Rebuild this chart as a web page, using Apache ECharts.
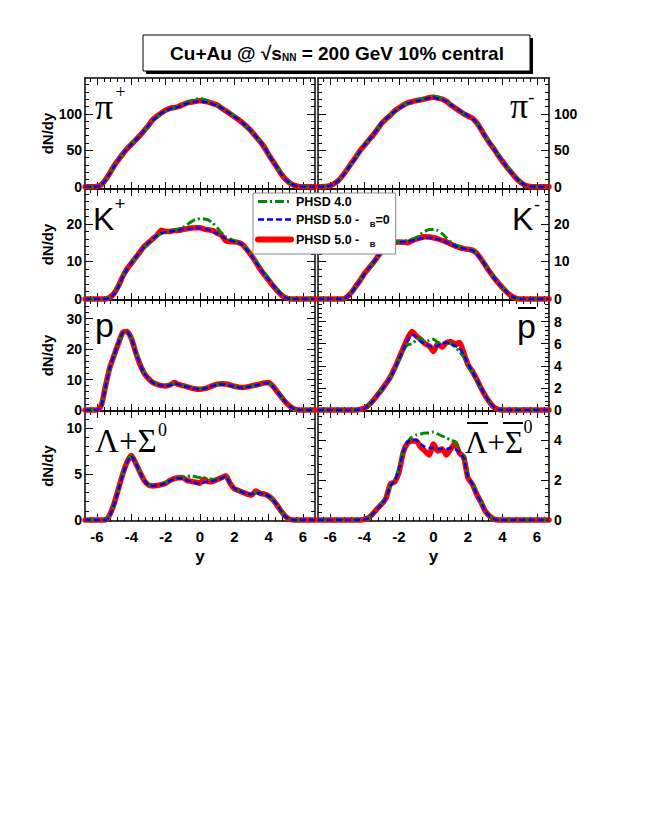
<!DOCTYPE html>
<html><head><meta charset="utf-8">
<script src="https://cdn.jsdelivr.net/npm/echarts@6/dist/echarts.min.js"></script>
<style>html,body{margin:0;padding:0;background:#fff}#c{width:648px;height:830px}</style>
</head><body><div id="c"></div>
<script>
// ---------- tick values ----------
const xMajor = [-6,-4,-2,0,2,4,6];
const xMinor = [-6.4,-5.6,-5.2,-4.8,-4.4,-3.6,-3.2,-2.8,-2.4,-1.6,-1.2,-0.8,-0.4,0.4,0.8,1.2,1.6,2.4,2.8,3.2,3.6,4.4,4.8,5.2,5.6,6.4];
const yMajorPi = [0,50,100];
const yMinorPi = [10,20,30,40,60,70,80,90,110,120,130,140];
const yMajorK = [0,10,20];
const yMinorK = [2,4,6,8,12,14,16,18,22,24,26,28];
const yMajorP = [0,10,20,30];
const yMinorP = [2,4,6,8,12,14,16,18,22,24,26,28,32,34];
const yMajorPbar = [0,2,4,6,8];
const yMinorPbar = [0.4,0.8,1.2,1.6,2.4,2.8,3.2,3.6,4.4,4.8,5.2,5.6,6.4,6.8,7.2,7.6,8.4,8.8,9.2,9.6];
const yMajorLam = [0,5,10];
const yMinorLam = [1,2,3,4,6,7,8,9,11];
const yMajorLamBar = [0,2,4];
const yMinorLamBar = [0.4,0.8,1.2,1.6,2.4,2.8,3.2,3.6,4.4,4.8,5.2];

// ---------- series names ----------
const nameV4 = 'PHSD 4.0';
const nameMuB0 = 'PHSD 5.0 - μB=0';
const nameMuB = 'PHSD 5.0 - μB';

// ---------- data: [rapidity y, dN/dy] ----------
const piPlusMuB = [[-6.7,0],[-6.25,0],[-6,0.5],[-5.75,3],[-5.5,10],[-5.25,19],[-5,29],[-4.75,37],[-4.5,45],[-4.25,52],[-4,58],[-3.75,64],[-3.5,70],[-3.25,77],[-3,84],[-2.75,92],[-2.5,97],[-2.25,101],[-2,105],[-1.75,107.5],[-1.5,108.5],[-1.25,110],[-1,112.5],[-0.75,115],[-0.5,116],[-0.25,117],[0,118],[0.25,117],[0.5,116],[0.75,114],[1,112],[1.25,108],[1.5,104],[1.75,100],[2,96],[2.25,92],[2.5,87],[2.75,82],[3,76],[3.25,69],[3.5,62],[3.75,54],[4,44],[4.25,35],[4.5,26],[4.75,17],[5,10],[5.25,5],[5.5,2],[5.75,0.5],[6,0],[6.7,0]];
const piPlusMuB0 = [[-6.7,0],[-6.25,0],[-6,0.3],[-5.75,2.5],[-5.5,9],[-5.25,18],[-5,28],[-4.75,37],[-4.5,45],[-4.25,52],[-4,58],[-3.75,64],[-3.5,70],[-3.25,77],[-3,84],[-2.75,91],[-2.5,96],[-2.25,101],[-2,104],[-1.75,107],[-1.5,108],[-1.25,109.5],[-1,112],[-0.75,114],[-0.5,115.5],[-0.25,116.5],[0,117],[0.25,116.5],[0.5,115],[0.75,113],[1,111],[1.25,108],[1.5,104],[1.75,100],[2,96],[2.25,92],[2.5,87],[2.75,82],[3,76],[3.25,69],[3.5,62],[3.75,54],[4,44],[4.25,35],[4.5,26],[4.75,17],[5,10],[5.25,5],[5.5,2],[5.75,0.5],[6,0],[6.7,0]];
const piPlusV4 = [[-6.7,0],[-6.25,0],[-6,0.4],[-5.75,3],[-5.5,9.5],[-5.25,18.5],[-5,28.5],[-4.75,37],[-4.5,45],[-4.25,52],[-4,58],[-3.75,64],[-3.5,70],[-3.25,76],[-3,83],[-2.75,90],[-2.5,96],[-2.25,100],[-2,104],[-1.75,106],[-1.5,108],[-1.25,110],[-1,113],[-0.75,115.5],[-0.5,118],[-0.25,120],[0,121],[0.25,119.5],[0.5,117],[0.75,114],[1,111.5],[1.25,108.5],[1.5,104.5],[1.75,101],[2,97],[2.25,92.5],[2.5,87],[2.75,81],[3,75],[3.25,69],[3.5,62],[3.75,54],[4,45],[4.25,36],[4.5,27],[4.75,18],[5,10.5],[5.25,5],[5.5,2],[5.75,0.5],[6,0],[6.7,0]];

const piMinusMuB = [[-6.7,0],[-6.25,0.3],[-6,1.5],[-5.75,4.5],[-5.5,9],[-5.25,16],[-5,24],[-4.75,33],[-4.5,41],[-4.25,50],[-4,57],[-3.75,64],[-3.5,71],[-3.25,79],[-3,87],[-2.75,93],[-2.5,98],[-2.25,104],[-2,108],[-1.75,112],[-1.5,115],[-1.25,116.5],[-1,118],[-0.75,119],[-0.5,120.5],[-0.25,122],[0,122.5],[0.25,121.5],[0.5,120],[0.75,117],[1,112],[1.25,108],[1.5,104],[1.75,100],[2,97],[2.25,94],[2.5,88],[2.75,79],[3,69],[3.25,60],[3.5,52],[3.75,43],[4,35],[4.25,27],[4.5,20],[4.75,13],[5,7],[5.25,3],[5.5,1],[5.75,0.2],[6,0],[6.7,0]];
const piMinusMuB0 = [[-6.7,0],[-6.25,0.2],[-6,1.3],[-5.75,4.2],[-5.5,8.8],[-5.25,15.5],[-5,23.5],[-4.75,32],[-4.5,40],[-4.25,49],[-4,57],[-3.75,64],[-3.5,71],[-3.25,79],[-3,87],[-2.75,93],[-2.5,98],[-2.25,103],[-2,107],[-1.75,111],[-1.5,114],[-1.25,116],[-1,117.5],[-0.75,118.5],[-0.5,120],[-0.25,121.5],[0,122],[0.25,121],[0.5,119.5],[0.75,116.5],[1,112.5],[1.25,108.5],[1.5,104.5],[1.75,101],[2,97.5],[2.25,93.5],[2.5,87.5],[2.75,79],[3,69.5],[3.25,60.5],[3.5,52],[3.75,43.5],[4,35],[4.25,27],[4.5,20],[4.75,13],[5,7.2],[5.25,3.2],[5.5,1],[5.75,0.2],[6,0],[6.7,0]];
const piMinusV4 = [[-6.7,0],[-6.25,0.3],[-6,1.5],[-5.75,4.4],[-5.5,9],[-5.25,16],[-5,24],[-4.75,33],[-4.5,41],[-4.25,49],[-4,57],[-3.75,64],[-3.5,71],[-3.25,79],[-3,87],[-2.75,93],[-2.5,98.5],[-2.25,103],[-2,107],[-1.75,111.5],[-1.5,115],[-1.25,117],[-1,118.5],[-0.75,120],[-0.5,121.5],[-0.25,123],[0,124],[0.25,123],[0.5,121],[0.75,117.5],[1,113],[1.25,108.5],[1.5,103.5],[1.75,100],[2,97],[2.25,93.5],[2.5,87.5],[2.75,79.5],[3,70],[3.25,61],[3.5,52.5],[3.75,44],[4,35.5],[4.25,27.5],[4.5,20.5],[4.75,13.5],[5,7.5],[5.25,3.3],[5.5,1.1],[5.75,0.2],[6,0],[6.7,0]];

const kPlusMuB = [[-6.7,0],[-5.5,0],[-5.25,0.4],[-5,1.5],[-4.75,3.5],[-4.5,6],[-4.25,8],[-4,9.5],[-3.75,11],[-3.5,12.5],[-3.25,14],[-3,15],[-2.75,16],[-2.5,17],[-2.25,18.3],[-2,18],[-1.75,18],[-1.5,18.2],[-1.25,18.3],[-1,18.5],[-0.75,18.7],[-0.5,18.9],[-0.25,19],[0,19],[0.25,18.6],[0.5,18.4],[0.75,18.2],[1,17.5],[1.25,17],[1.5,15.5],[1.75,15.3],[2,15.2],[2.25,15],[2.5,14.4],[2.75,13],[3,11.5],[3.25,9.8],[3.5,8],[3.75,6.4],[4,5],[4.25,3.5],[4.5,2.2],[4.75,1],[5,0.3],[5.25,0],[6.7,0]];
const kPlusMuB0 = [[-6.7,0],[-5.5,0],[-5.25,0.3],[-5,1.3],[-4.75,3.3],[-4.5,5.8],[-4.25,7.9],[-4,9.5],[-3.75,11],[-3.5,12.5],[-3.25,13.9],[-3,15],[-2.75,16],[-2.5,16.9],[-2.25,17.5],[-2,17.8],[-1.75,18],[-1.5,18.1],[-1.25,18.3],[-1,18.5],[-0.75,18.6],[-0.5,18.8],[-0.25,18.9],[0,18.9],[0.25,18.7],[0.5,18.4],[0.75,18],[1,17.4],[1.25,16.8],[1.5,16.1],[1.75,15.6],[2,15.3],[2.25,15],[2.5,14.3],[2.75,13],[3,11.5],[3.25,9.8],[3.5,8.1],[3.75,6.5],[4,5.1],[4.25,3.6],[4.5,2.3],[4.75,1.1],[5,0.3],[5.25,0],[6.7,0]];
const kPlusV4 = [[-6.7,0],[-5.5,0],[-5.25,0.4],[-5,1.6],[-4.75,3.6],[-4.5,6],[-4.25,8],[-4,9.6],[-3.75,11],[-3.5,12.3],[-3.25,13.6],[-3,14.6],[-2.75,15.8],[-2.5,16.8],[-2.25,17.4],[-2,17.8],[-1.75,18.1],[-1.5,18.3],[-1.25,18.6],[-1,19],[-0.75,19.8],[-0.5,20.6],[-0.25,21.2],[0,21.4],[0.25,21.3],[0.5,21],[0.75,20.2],[1,19],[1.25,17.6],[1.5,16.6],[1.75,16],[2,15.5],[2.25,15.1],[2.5,14.5],[2.75,13.2],[3,11.8],[3.25,10.2],[3.5,8.5],[3.75,7],[4,5.5],[4.25,4],[4.5,2.6],[4.75,1.3],[5,0.4],[5.25,0],[6.7,0]];

const kMinusMuB = [[-6.7,0],[-5.25,0],[-5,0.6],[-4.75,1.8],[-4.5,3.4],[-4.25,5],[-4,6.8],[-3.75,8.2],[-3.5,9.6],[-3.25,11.2],[-3,12.8],[-2.75,14.3],[-2.5,15],[-2.25,15.1],[-2,15.2],[-1.75,15.1],[-1.5,15],[-1.25,15.5],[-1,16],[-0.75,16.3],[-0.5,16.6],[-0.25,16.5],[0,16.3],[0.25,16],[0.5,15.6],[0.75,15.2],[1,14.6],[1.25,14.1],[1.5,13.7],[1.75,13.4],[2,13.2],[2.25,13],[2.5,12.2],[2.75,10.7],[3,9],[3.25,7.3],[3.5,5.7],[3.75,4.3],[4,3],[4.25,1.8],[4.5,0.8],[4.75,0.2],[5,0],[6.7,0]];
const kMinusMuB0 = [[-6.7,0],[-5.25,0],[-5,0.5],[-4.75,1.7],[-4.5,3.3],[-4.25,4.9],[-4,6.6],[-3.75,8.1],[-3.5,9.6],[-3.25,11.1],[-3,12.6],[-2.75,13.9],[-2.5,14.6],[-2.25,15],[-2,15.1],[-1.75,15.2],[-1.5,15.3],[-1.25,15.5],[-1,15.8],[-0.75,16.1],[-0.5,16.3],[-0.25,16.3],[0,16.1],[0.25,15.9],[0.5,15.6],[0.75,15.1],[1,14.6],[1.25,14.1],[1.5,13.7],[1.75,13.4],[2,13.2],[2.25,12.9],[2.5,12.1],[2.75,10.7],[3,9],[3.25,7.3],[3.5,5.7],[3.75,4.3],[4,3],[4.25,1.8],[4.5,0.8],[4.75,0.2],[5,0],[6.7,0]];
const kMinusV4 = [[-6.7,0],[-5.25,0],[-5,0.6],[-4.75,1.8],[-4.5,3.4],[-4.25,5],[-4,6.7],[-3.75,8.2],[-3.5,9.7],[-3.25,11.2],[-3,12.7],[-2.75,14],[-2.5,14.8],[-2.25,15.1],[-2,15.3],[-1.75,15.4],[-1.5,15.6],[-1.25,15.9],[-1,16.3],[-0.75,17.2],[-0.5,18],[-0.25,18.5],[0,18.5],[0.25,18.2],[0.5,17.4],[0.75,16.3],[1,15.2],[1.25,14.4],[1.5,13.9],[1.75,13.5],[2,13.3],[2.25,13],[2.5,12.3],[2.75,10.9],[3,9.2],[3.25,7.5],[3.5,5.9],[3.75,4.4],[4,3.1],[4.25,1.9],[4.5,0.9],[4.75,0.2],[5,0],[6.7,0]];

const protonMuB = [[-6.7,0],[-6,0],[-5.75,1.5],[-5.5,8],[-5.25,14],[-5,18],[-4.75,22],[-4.5,25.5],[-4.25,25.8],[-4,23.5],[-3.75,19],[-3.5,15],[-3.25,12],[-3,10.3],[-2.75,9],[-2.5,8.4],[-2.25,8],[-2,7.9],[-1.75,8.2],[-1.5,9],[-1.25,8.4],[-1,8],[-0.75,7.6],[-0.5,7.2],[-0.25,6.9],[0,6.8],[0.25,7],[0.5,7.4],[0.75,8],[1,8.5],[1.25,8.6],[1.5,8.5],[1.75,8.2],[2,7.8],[2.25,7.5],[2.5,7.4],[2.75,7.6],[3,7.9],[3.25,8.2],[3.5,8.5],[3.75,8.9],[4,9],[4.25,7.8],[4.5,6],[4.75,4.2],[5,2.5],[5.25,1.2],[5.5,0.3],[5.75,0],[6.7,0]];
const protonMuB0 = [[-6.7,0],[-6,0],[-5.75,1.3],[-5.5,7.6],[-5.25,13.8],[-5,18],[-4.75,22],[-4.5,25.3],[-4.25,25.6],[-4,23.4],[-3.75,19],[-3.5,15],[-3.25,12],[-3,10.2],[-2.75,9],[-2.5,8.4],[-2.25,8],[-2,7.9],[-1.75,8.1],[-1.5,8.6],[-1.25,8.4],[-1,8],[-0.75,7.6],[-0.5,7.2],[-0.25,6.9],[0,6.8],[0.25,7],[0.5,7.4],[0.75,7.9],[1,8.3],[1.25,8.4],[1.5,8.3],[1.75,8],[2,7.7],[2.25,7.4],[2.5,7.3],[2.75,7.5],[3,7.8],[3.25,8.1],[3.5,8.4],[3.75,8.7],[4,8.8],[4.25,7.7],[4.5,6],[4.75,4.2],[5,2.5],[5.25,1.2],[5.5,0.3],[5.75,0],[6.7,0]];
const protonV4 = [[-6.7,0],[-6,0],[-5.75,1.4],[-5.5,7.8],[-5.25,13.9],[-5,18],[-4.75,22],[-4.5,25.4],[-4.25,25.7],[-4,23.5],[-3.75,19.1],[-3.5,15.1],[-3.25,12.1],[-3,10.3],[-2.75,9.1],[-2.5,8.5],[-2.25,8.1],[-2,8],[-1.75,8.3],[-1.5,8.8],[-1.25,8.5],[-1,8.1],[-0.75,7.7],[-0.5,7.3],[-0.25,7.1],[0,7],[0.25,7.1],[0.5,7.5],[0.75,8],[1,8.4],[1.25,8.5],[1.5,8.4],[1.75,8.1],[2,7.8],[2.25,7.5],[2.5,7.4],[2.75,7.6],[3,7.9],[3.25,8.1],[3.5,8.4],[3.75,8.8],[4,8.9],[4.25,7.8],[4.5,6.1],[4.75,4.3],[5,2.6],[5.25,1.2],[5.5,0.3],[5.75,0],[6.7,0]];

const pbarMuB = [[-6.7,0],[-4.5,0],[-4.25,0.05],[-4,0.15],[-3.75,0.45],[-3.5,0.85],[-3.25,1.35],[-3,1.85],[-2.75,2.4],[-2.5,3.0],[-2.25,3.8],[-2,4.7],[-1.75,5.6],[-1.5,6.5],[-1.25,7.1],[-1,6.7],[-0.75,6.4],[-0.5,6.0],[-0.25,5.8],[0,5.3],[0.25,6.0],[0.5,5.7],[0.75,6.1],[1,6.2],[1.25,6.0],[1.5,6.1],[1.75,5.2],[2,4.1],[2.25,3.5],[2.5,2.8],[2.75,2.0],[3,1.3],[3.25,0.7],[3.5,0.25],[3.75,0.05],[4,0],[6.7,0]];
const pbarMuB0 = [[-6.7,0],[-4.5,0],[-4.25,0.04],[-4,0.14],[-3.75,0.42],[-3.5,0.8],[-3.25,1.3],[-3,1.8],[-2.75,2.35],[-2.5,2.95],[-2.25,3.7],[-2,4.6],[-1.75,5.5],[-1.5,6.3],[-1.25,6.8],[-1,6.6],[-0.75,6.2],[-0.5,6.0],[-0.25,5.8],[0,5.7],[0.25,5.8],[0.5,6.0],[0.75,6.1],[1,6.0],[1.25,5.8],[1.5,5.6],[1.75,5.0],[2,4.2],[2.25,3.5],[2.5,2.8],[2.75,2.0],[3,1.3],[3.25,0.7],[3.5,0.25],[3.75,0.05],[4,0],[6.7,0]];
const pbarV4 = [[-6.7,0],[-4.5,0],[-4.25,0.05],[-4,0.16],[-3.75,0.45],[-3.5,0.85],[-3.25,1.35],[-3,1.85],[-2.75,2.4],[-2.5,3.0],[-2.25,3.7],[-2,4.5],[-1.75,5.4],[-1.5,5.9],[-1.25,6.0],[-1,6.3],[-0.75,6.5],[-0.5,6.1],[-0.25,6.3],[0,6.4],[0.25,6.1],[0.5,6.0],[0.75,6.2],[1,6.0],[1.25,5.7],[1.5,5.3],[1.75,4.8],[2,4.0],[2.25,3.4],[2.5,2.7],[2.75,1.95],[3,1.3],[3.25,0.7],[3.5,0.25],[3.75,0.05],[4,0],[6.7,0]];

const lambdaMuB = [[-6.7,0],[-5.5,0],[-5.25,0.6],[-5,1.8],[-4.75,3.4],[-4.5,5.0],[-4.25,6.3],[-4,7.0],[-3.75,6.2],[-3.5,5.2],[-3.25,4.3],[-3,3.8],[-2.75,3.7],[-2.5,3.75],[-2.25,3.85],[-2,4.0],[-1.75,4.3],[-1.5,4.5],[-1.25,4.6],[-1,4.6],[-0.75,4.3],[-0.5,4.2],[-0.25,4.1],[0,4.0],[0.25,4.45],[0.5,4.15],[0.75,4.2],[1,4.4],[1.25,4.6],[1.5,4.8],[1.75,4.0],[2,3.4],[2.25,3.2],[2.5,3.0],[2.75,2.8],[3,2.7],[3.25,3.15],[3.5,2.9],[3.75,2.8],[4,2.6],[4.25,2.2],[4.5,1.6],[4.75,0.9],[5,0.35],[5.25,0.05],[5.5,0],[6.7,0]];
const lambdaMuB0 = [[-6.7,0],[-5.5,0],[-5.25,0.5],[-5,1.7],[-4.75,3.3],[-4.5,4.9],[-4.25,6.2],[-4,6.9],[-3.75,6.2],[-3.5,5.2],[-3.25,4.3],[-3,3.8],[-2.75,3.7],[-2.5,3.75],[-2.25,3.85],[-2,4.0],[-1.75,4.25],[-1.5,4.45],[-1.25,4.55],[-1,4.5],[-0.75,4.3],[-0.5,4.2],[-0.25,4.05],[0,3.9],[0.25,4.1],[0.5,4.15],[0.75,4.25],[1,4.4],[1.25,4.55],[1.5,4.7],[1.75,4.0],[2,3.45],[2.25,3.2],[2.5,3.0],[2.75,2.85],[3,2.8],[3.25,2.95],[3.5,2.9],[3.75,2.8],[4,2.6],[4.25,2.2],[4.5,1.6],[4.75,0.9],[5,0.35],[5.25,0.05],[5.5,0],[6.7,0]];
const lambdaV4 = [[-6.7,0],[-5.5,0],[-5.25,0.55],[-5,1.75],[-4.75,3.35],[-4.5,4.95],[-4.25,6.25],[-4,6.95],[-3.75,6.25],[-3.5,5.25],[-3.25,4.35],[-3,3.85],[-2.75,3.75],[-2.5,3.8],[-2.25,3.9],[-2,4.05],[-1.75,4.3],[-1.5,4.5],[-1.25,4.6],[-1,4.6],[-0.75,4.7],[-0.5,4.8],[-0.25,4.7],[0,4.6],[0.25,4.5],[0.5,4.5],[0.75,4.4],[1,4.45],[1.25,4.6],[1.5,4.7],[1.75,4.0],[2,3.45],[2.25,3.2],[2.5,3.0],[2.75,2.85],[3,2.8],[3.25,2.95],[3.5,2.9],[3.75,2.8],[4,2.6],[4.25,2.2],[4.5,1.6],[4.75,0.9],[5,0.35],[5.25,0.05],[5.5,0],[6.7,0]];

const lambdaBarMuB = [[-6.7,0],[-4.25,0],[-4,0.03],[-3.75,0.12],[-3.5,0.33],[-3.25,0.58],[-3,0.8],[-2.75,1.1],[-2.5,1.8],[-2.25,1.9],[-2,2.4],[-1.75,3.4],[-1.5,3.85],[-1.25,3.95],[-1,3.95],[-0.75,3.65],[-0.5,3.45],[-0.25,3.25],[0,3.8],[0.25,3.45],[0.5,3.55],[0.75,3.25],[1,3.55],[1.25,3.85],[1.5,3.35],[1.75,3.15],[2,2.1],[2.25,1.8],[2.5,1.3],[2.75,0.9],[3,0.45],[3.25,0.2],[3.5,0.05],[3.75,0],[6.7,0]];
const lambdaBarMuB0 = [[-6.7,0],[-4.25,0],[-4,0.03],[-3.75,0.11],[-3.5,0.32],[-3.25,0.56],[-3,0.8],[-2.75,1.1],[-2.5,1.7],[-2.25,1.95],[-2,2.5],[-1.75,3.4],[-1.5,3.9],[-1.25,4.0],[-1,4.0],[-0.75,3.8],[-0.5,3.65],[-0.25,3.6],[0,3.6],[0.25,3.55],[0.5,3.55],[0.75,3.55],[1,3.6],[1.25,3.55],[1.5,3.4],[1.75,3.1],[2,2.15],[2.25,1.8],[2.5,1.3],[2.75,0.9],[3,0.45],[3.25,0.2],[3.5,0.05],[3.75,0],[6.7,0]];
const lambdaBarV4 = [[-6.7,0],[-4.25,0],[-4,0.03],[-3.75,0.12],[-3.5,0.33],[-3.25,0.58],[-3,0.82],[-2.75,1.15],[-2.5,1.7],[-2.25,2.0],[-2,2.6],[-1.75,3.45],[-1.5,3.9],[-1.25,4.15],[-1,4.25],[-0.75,4.3],[-0.5,4.35],[-0.25,4.35],[0,4.4],[0.25,4.3],[0.5,4.2],[0.75,4.1],[1,4.0],[1.25,3.9],[1.5,3.5],[1.75,3.2],[2,2.2],[2.25,1.85],[2.5,1.35],[2.75,0.92],[3,0.47],[3.25,0.2],[3.5,0.05],[3.75,0],[6.7,0]];

// ---------- layout ----------
const SANS = '"Liberation Sans", Arial, Helvetica, sans-serif';
const SERIF = '"Liberation Serif", "Times New Roman", serif';
const colX = [85, 318], colW = [230, 231];
const rowY = [78, 189, 300, 411], rowH = [111, 111, 111, 110];

const panels = [
  {row:0,col:0,ymin:-3,ymax:149,major:yMajorPi,minor:yMinorPi,red:piPlusMuB,blue:piPlusMuB0,green:piPlusV4},
  {row:0,col:1,ymin:-3,ymax:149,major:yMajorPi,minor:yMinorPi,red:piMinusMuB,blue:piMinusMuB0,green:piMinusV4},
  {row:1,col:0,ymin:-0.3,ymax:29.3,major:yMajorK,minor:yMinorK,red:kPlusMuB,blue:kPlusMuB0,green:kPlusV4},
  {row:1,col:1,ymin:-0.3,ymax:29.3,major:yMajorK,minor:yMinorK,red:kMinusMuB,blue:kMinusMuB0,green:kMinusV4},
  {row:2,col:0,ymin:-0.33,ymax:36.1,major:yMajorP,minor:yMinorP,red:protonMuB,blue:protonMuB0,green:protonV4},
  {row:2,col:1,ymin:-0.1,ymax:9.96,major:yMajorPbar,minor:yMinorPbar,red:pbarMuB,blue:pbarMuB0,green:pbarV4},
  {row:3,col:0,ymin:-0.11,ymax:11.85,major:yMajorLam,minor:yMinorLam,red:lambdaMuB,blue:lambdaMuB0,green:lambdaV4},
  {row:3,col:1,ymin:-0.05,ymax:5.45,major:yMajorLamBar,minor:yMinorLamBar,red:lambdaBarMuB,blue:lambdaBarMuB0,green:lambdaBarV4}
];

const lineAx = {show:true, onZero:false, lineStyle:{color:'#000', width:1.5}};
const noAx = {show:false, onZero:false};
const tickStyle = {color:'#000', width:1};
const labelFont = {fontFamily:SANS, fontWeight:'bold', fontSize:14, color:'#000'};

const grids = [], xAxes = [], yAxes = [], series = [];
panels.forEach((p, g) => {
  grids.push({left:colX[p.col], top:rowY[p.row], width:colW[p.col], height:rowH[p.row]});
  const bottomRow = p.row === 3;
  const xb = {type:'value', gridIndex:g, min:-6.7, max:6.7, splitLine:{show:false}, silent:true};
  xAxes.push(Object.assign({}, xb, {position:'bottom', axisLine:lineAx,
    axisTick:{inside:true, length:7, customValues:xMajor, lineStyle:tickStyle},
    axisLabel: bottomRow ? Object.assign({customValues:xMajor, margin:8}, labelFont, {fontSize:15}) : {show:false},
    name: bottomRow ? 'y' : '', nameLocation:'middle', nameGap:27,
    nameTextStyle:{fontFamily:SANS, fontWeight:'bold', fontSize:17, color:'#000'}}));
  xAxes.push(Object.assign({}, xb, {position:'bottom', axisLine:noAx,
    axisTick:{inside:true, length:4, customValues:xMinor, lineStyle:tickStyle}, axisLabel:{show:false}}));
  xAxes.push(Object.assign({}, xb, {position:'top', axisLine:lineAx,
    axisTick:{inside:true, length:7, customValues:xMajor, lineStyle:tickStyle}, axisLabel:{show:false}}));
  xAxes.push(Object.assign({}, xb, {position:'top', axisLine:noAx,
    axisTick:{inside:true, length:4, customValues:xMinor, lineStyle:tickStyle}, axisLabel:{show:false}}));

  const labSide = p.col === 0 ? 'left' : 'right';
  const othSide = p.col === 0 ? 'right' : 'left';
  const yb = {type:'value', gridIndex:g, min:p.ymin, max:p.ymax, splitLine:{show:false}, silent:true};
  const yLab = Object.assign({customValues:p.major, margin: p.col === 0 ? 3 : 5}, labelFont,
     p.col === 0 ? {padding:[0,0,9,0]} : {});
  yAxes.push(Object.assign({}, yb, {position:labSide, axisLine:lineAx,
    axisTick:{inside:true, length:8, customValues:p.major, lineStyle:tickStyle}, axisLabel:yLab,
    name: p.col === 0 ? 'dN/dy' : '', nameLocation:'middle', nameRotate:90, nameGap:30,
    nameTextStyle:{fontFamily:SANS, fontWeight:'bold', fontSize:15, color:'#000'}}));
  yAxes.push(Object.assign({}, yb, {position:labSide, axisLine:noAx,
    axisTick:{inside:true, length:4, customValues:p.minor, lineStyle:tickStyle}, axisLabel:{show:false}}));
  yAxes.push(Object.assign({}, yb, {position:othSide, axisLine:lineAx,
    axisTick:{inside:true, length:8, customValues:p.major, lineStyle:tickStyle}, axisLabel:{show:false}}));
  yAxes.push(Object.assign({}, yb, {position:othSide, axisLine:noAx,
    axisTick:{inside:true, length:4, customValues:p.minor, lineStyle:tickStyle}, axisLabel:{show:false}}));

  const common = {type:'line', xAxisIndex:4*g, yAxisIndex:4*g, symbol:'none', showSymbol:false,
    smooth:0.2, clip:true, silent:true, animation:false};
  series.push(Object.assign({}, common, {name:nameMuB, data:p.red, z:2,
    lineStyle:{color:'#ff0000', width:5.5, type:'solid', cap:'round', join:'round'}, itemStyle:{color:'#ff0000'}}));
  series.push(Object.assign({}, common, {name:nameV4, data:p.green, z:3,
    lineStyle:{color:'#008a00', width:3, type:[9,3,2,3]}, itemStyle:{color:'#008a00'}}));
  series.push(Object.assign({}, common, {name:nameMuB0, data:p.blue, z:4,
    lineStyle:{color:'#0000ff', width:2.5, type:[6,3]}, itemStyle:{color:'#0000ff'}}));
});

const legendText = {};
legendText[nameV4] = '{t|PHSD 4.0}';
legendText[nameMuB0] = '{t|PHSD 5.0 -   }{s|B}{t|=0}';
legendText[nameMuB] = '{t|PHSD 5.0 -   }{s|B}';

// panel labels
const T = (text, x, y, size, fam) => ({type:'text', x:x, y:y, z:20, silent:true,
  style:{text:text, fontFamily:fam, fontSize:size, fill:'#000', align:'left', verticalAlign:'top'}});
const L = (x1, x2, y) => ({type:'line', z:20, silent:true, shape:{x1:x1, y1:y, x2:x2, y2:y}, style:{stroke:'#000', lineWidth:2}});

const graphics = [
  {type:'rect', z:18, silent:true, shape:{x:146, y:38, width:387, height:36}, style:{fill:'#000'}},
  {type:'rect', z:19, silent:true, shape:{x:143, y:35, width:387, height:36}, style:{fill:'#fff', stroke:'#000', lineWidth:1}},
  {type:'text', z:20, silent:true, x:337, y:53, style:{
    text:'{a|Cu+Au @ √s}{s|NN}{a| = 200 GeV 10% central}', align:'center', verticalAlign:'middle',
    rich:{a:{fontFamily:SANS, fontWeight:'bold', fontSize:19, fill:'#000'},
          s:{fontFamily:SANS, fontWeight:'bold', fontSize:10, fill:'#000', padding:[9,0,0,0]}}}},
  T('π', 95, 89, 36, SERIF), T('+', 115.5, 82.5, 18, SERIF),
  T('π', 510, 88, 36, SERIF), T('-', 528.5, 87.5, 18, SERIF),
  T('K', 93, 203, 32, SANS), T('+', 114.8, 195, 18, SANS),
  T('K', 512, 203, 32, SANS), T('-', 534, 195.5, 18, SANS),
  T('p', 95, 307.5, 34, SANS),
  T('p', 517, 309, 34, SANS), L(518, 536, 308),
  T('Λ+Σ', 95, 424, 33, SERIF), T('0', 158, 421, 18, SERIF),
  T('Λ+Σ', 465, 427, 31, SERIF), L(467, 488, 423), L(503, 523, 423), T('0', 523.5, 418, 18, SERIF)
];

const option = {
  backgroundColor:'#fff',
  animation:false,
  grid:grids, xAxis:xAxes, yAxis:yAxes, series:series,
  legend:{
    left:253, top:193, orient:'vertical', padding:[2,6,6,2], itemGap:5, itemWidth:33, itemHeight:14,
    backgroundColor:'#fff', borderColor:'#888', borderWidth:1, selectedMode:false, z:10,
    itemStyle:{opacity:0, borderWidth:0},
    data:[{name:nameV4, lineStyle:{width:3}, itemStyle:{opacity:0, borderWidth:0}},
          {name:nameMuB0, lineStyle:{width:2.5}, itemStyle:{opacity:0, borderWidth:0}},
          {name:nameMuB, lineStyle:{width:6}, itemStyle:{opacity:0, borderWidth:0}}],
    formatter:(n) => legendText[n],
    textStyle:{color:'#000', rich:{
      t:{fontFamily:SANS, fontWeight:'bold', fontSize:12.5, color:'#000'},
      s:{fontFamily:SANS, fontWeight:'bold', fontSize:8, color:'#000', padding:[9,0,0,0]}}}
  },
  graphic:graphics
};
const chart = echarts.init(document.getElementById('c'), null, {renderer:'svg'});
chart.setOption(option);
</script></body></html>
